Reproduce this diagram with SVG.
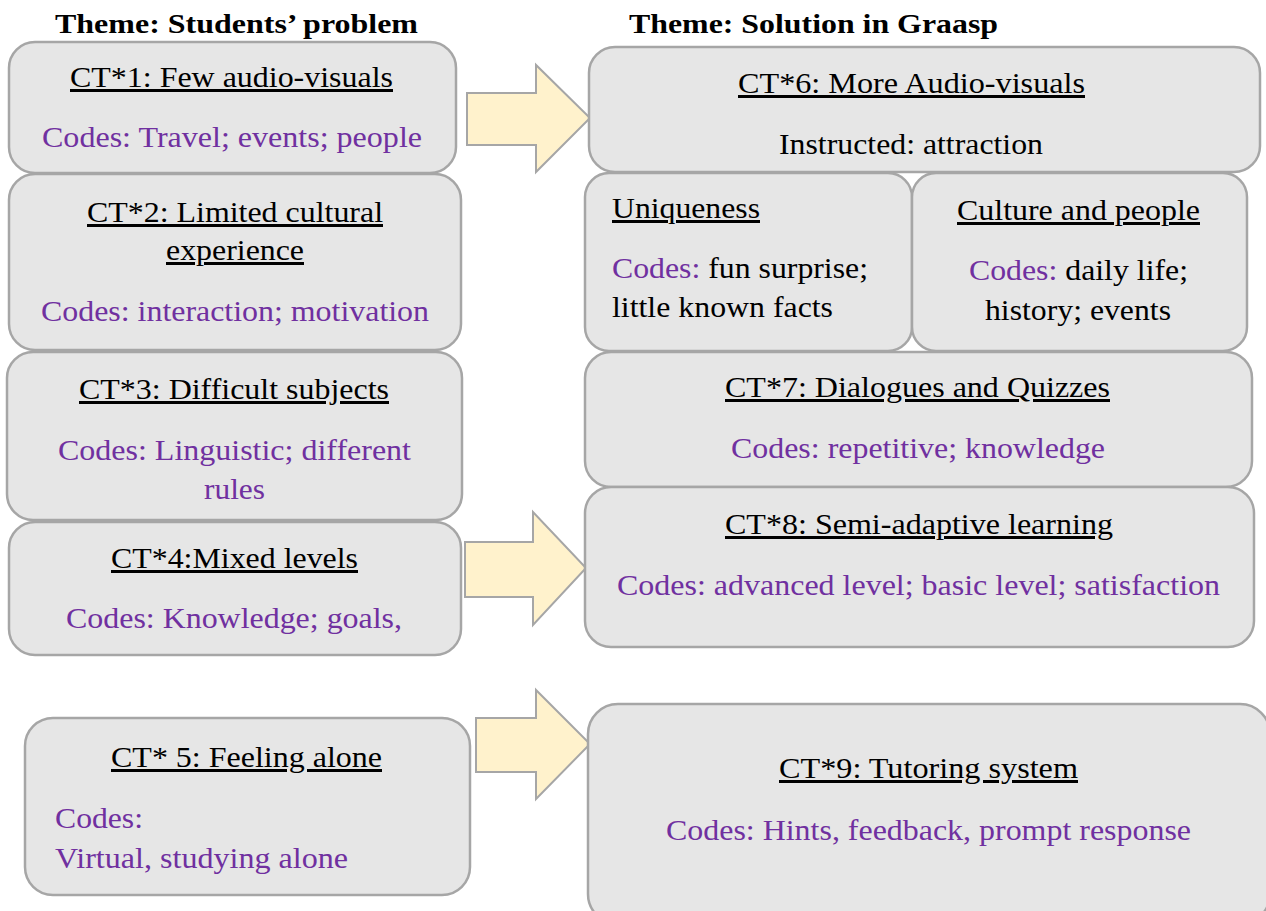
<svg xmlns="http://www.w3.org/2000/svg" width="1266" height="911" viewBox="0 0 1266 911">
<style>
.box{fill:#E6E6E6;stroke:#A6A6A6;stroke-width:2.5}
.arr{fill:#FFF2CC;stroke:#A6A6A6;stroke-width:2}
text{font-family:'Liberation Serif','Tinos','DejaVu Serif',serif;font-size:30px;fill:#000}
.h{font-weight:bold;font-size:28px}
.t{text-decoration:underline}
.c{fill:#7030A0}
</style>
<rect width="1266" height="911" fill="#fff"/>
<text class="h" x="55" y="33" textLength="363" lengthAdjust="spacingAndGlyphs">Theme: Students’ problem</text>
<text class="h" x="629" y="33" textLength="369" lengthAdjust="spacingAndGlyphs">Theme: Solution in Graasp</text>
<g id="connectors">
<polygon class="arr" points="467,93 536,93 536,65 590,118 536,172 536,145 467,145"/>
<polygon class="arr" points="465,542 533,542 533,512 586,568 533,625 533,597 465,597"/>
<polygon class="arr" points="476,718 536,718 536,690 590,744 536,799 536,772 476,772"/>
</g>
<g id="ct1"><rect class="box" x="9" y="42" width="447" height="131" rx="26"/>
<text class="t" x="70" y="87" textLength="323" lengthAdjust="spacingAndGlyphs">CT*1: Few audio-visuals</text>
<text class="c" x="42" y="147" textLength="380" lengthAdjust="spacingAndGlyphs">Codes: Travel; events; people</text></g>
<g id="ct2"><rect class="box" x="9" y="174" width="452" height="176" rx="26"/>
<text class="t" x="87" y="222" textLength="296" lengthAdjust="spacingAndGlyphs">CT*2: Limited cultural</text>
<text class="t" x="166" y="260" textLength="138" lengthAdjust="spacingAndGlyphs">experience</text>
<text class="c" x="41" y="321" textLength="388" lengthAdjust="spacingAndGlyphs">Codes: interaction; motivation</text></g>
<g id="ct3"><rect class="box" x="7" y="352" width="455" height="168" rx="26"/>
<text class="t" x="79" y="399" textLength="310" lengthAdjust="spacingAndGlyphs">CT*3: Difficult subjects</text>
<text class="c" x="58" y="460" textLength="353" lengthAdjust="spacingAndGlyphs">Codes: Linguistic; different</text>
<text class="c" x="204" y="499" textLength="61" lengthAdjust="spacingAndGlyphs">rules</text></g>
<g id="ct4"><rect class="box" x="9" y="522" width="452" height="133" rx="26"/>
<text class="t" x="111" y="568" textLength="247" lengthAdjust="spacingAndGlyphs">CT*4:Mixed levels</text>
<text class="c" x="66" y="628" textLength="336" lengthAdjust="spacingAndGlyphs">Codes: Knowledge; goals,</text></g>
<g id="ct5"><rect class="box" x="25" y="718" width="445" height="177" rx="28"/>
<text class="t" x="111" y="767" textLength="271" lengthAdjust="spacingAndGlyphs">CT* 5: Feeling alone</text>
<text class="c" x="55" y="828" textLength="88" lengthAdjust="spacingAndGlyphs">Codes:</text>
<text class="c" x="55" y="868" textLength="293" lengthAdjust="spacingAndGlyphs">Virtual, studying alone</text></g>
<g id="ct6"><rect class="box" x="589" y="47" width="671" height="125" rx="26"/>
<text class="t" x="738" y="93" textLength="347" lengthAdjust="spacingAndGlyphs">CT*6: More Audio-visuals</text>
<text x="779" y="154" textLength="264" lengthAdjust="spacingAndGlyphs">Instructed: attraction</text></g>
<g id="uniqueness"><rect class="box" x="585" y="173" width="327" height="178" rx="24"/>
<text class="t" x="612" y="218" textLength="148" lengthAdjust="spacingAndGlyphs">Uniqueness</text>
<text x="612" y="278" textLength="256" lengthAdjust="spacingAndGlyphs"><tspan class="c">Codes:</tspan> fun surprise;</text>
<text x="612" y="317" textLength="221" lengthAdjust="spacingAndGlyphs">little known facts</text></g>
<g id="culture"><rect class="box" x="912" y="173" width="335" height="178" rx="24"/>
<text class="t" x="957" y="220" textLength="243" lengthAdjust="spacingAndGlyphs">Culture and people</text>
<text x="969" y="280" textLength="219" lengthAdjust="spacingAndGlyphs"><tspan class="c">Codes:</tspan> daily life;</text>
<text x="985" y="320" textLength="186" lengthAdjust="spacingAndGlyphs">history; events</text></g>
<g id="ct7"><rect class="box" x="585" y="352" width="667" height="135" rx="26"/>
<text class="t" x="725" y="397" textLength="385" lengthAdjust="spacingAndGlyphs">CT*7: Dialogues and Quizzes</text>
<text class="c" x="731" y="458" textLength="374" lengthAdjust="spacingAndGlyphs">Codes: repetitive; knowledge</text></g>
<g id="ct8"><rect class="box" x="585" y="487" width="669" height="160" rx="26"/>
<text class="t" x="725" y="534" textLength="388" lengthAdjust="spacingAndGlyphs">CT*8: Semi-adaptive learning</text>
<text class="c" x="617" y="595" textLength="603" lengthAdjust="spacingAndGlyphs">Codes: advanced level; basic level; satisfaction</text></g>
<g id="ct9"><rect class="box" x="588" y="704" width="682" height="220" rx="30"/>
<text class="t" x="779" y="778" textLength="299" lengthAdjust="spacingAndGlyphs">CT*9: Tutoring system</text>
<text class="c" x="666" y="840" textLength="525" lengthAdjust="spacingAndGlyphs">Codes: Hints, feedback, prompt response</text></g>
</svg>
